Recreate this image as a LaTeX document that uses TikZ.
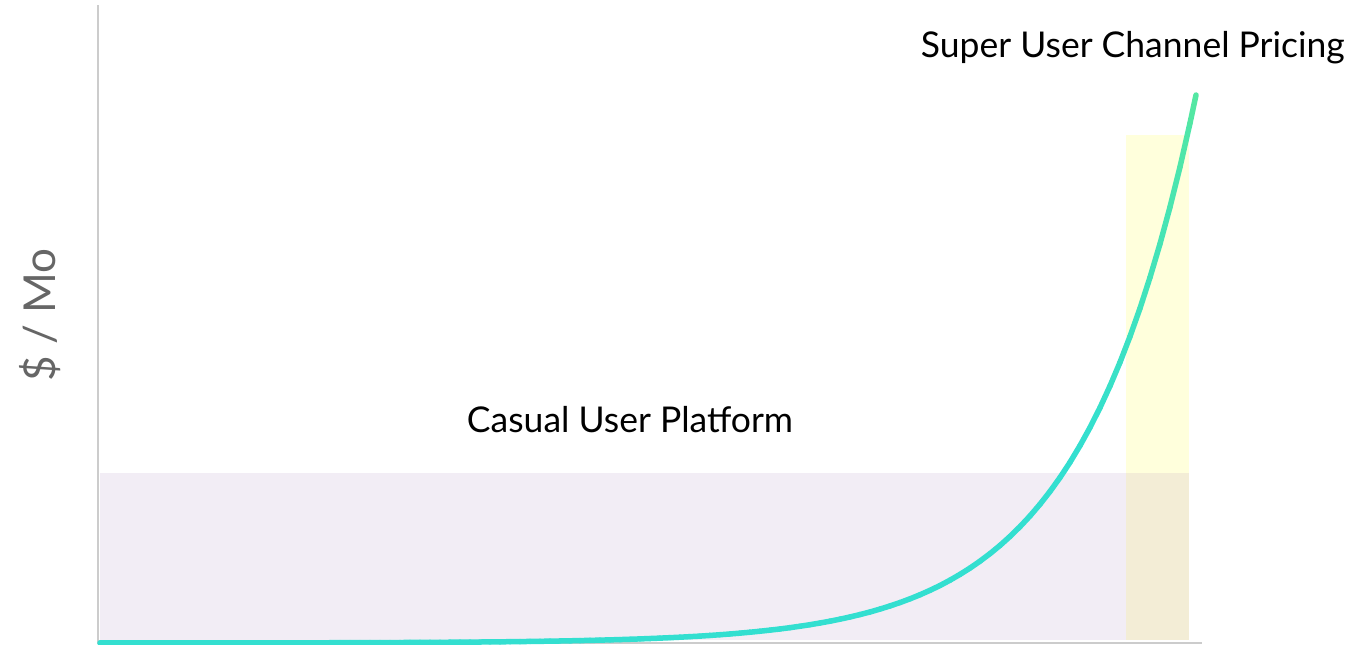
\documentclass[tikz,border=0pt]{standalone}
\usepackage{fontspec}
\setmainfont{Lato}
\definecolor{axisgray}{HTML}{CCCCCC}
\definecolor{casualfill}{HTML}{F2EDF5}
\definecolor{superfill}{HTML}{FFFFDC}
\definecolor{overlapfill}{HTML}{F3EDD6}
\definecolor{curvelow}{HTML}{33DFD0}
\definecolor{curvehigh}{HTML}{55E8A0}
\definecolor{labelgray}{HTML}{666666}
\tikzset{
  axisline/.style={draw=axisgray, line width=2pt},
  lbl/.style={font=\fontsize{35.5}{40}\selectfont, text=black, inner sep=0pt},
  ylbl/.style={font=\fontsize{44}{50}\selectfont, text=labelgray, inner sep=0pt, rotate=90},
}
\begin{document}
\begin{tikzpicture}[x=1pt,y=-1pt]
  \useasboundingbox (0,0) rectangle (1357,645);
  % shaded bands
  \fill[casualfill] (100,473) rectangle (1126,640);
  \fill[superfill] (1126,135) rectangle (1189,473);
  \fill[overlapfill] (1126,473) rectangle (1189,640);
  % axes
  \coordinate (origin) at (98,643);
  \coordinate (ytop) at (98,5);
  \coordinate (xend) at (1202,643);
  \draw[axisline] (ytop) -- (origin) -- (xend);
  % exponential price curve, coloured from teal to green as it rises
  \foreach \i in {0,...,109} {
    \pgfmathsetmacro{\xa}{100+\i*10}
    \pgfmathsetmacro{\xb}{min(100+(\i+1)*10,1196)}
    \pgfmathsetmacro{\ya}{643-548*exp(0.0088*(\xa-1196))}
    \pgfmathsetmacro{\yb}{643-548*exp(0.0088*(\xb-1196))}
    \pgfmathsetmacro{\mix}{max(0,min(100,(450-\ya)/3.5))}
    \draw[curvehigh!\mix!curvelow, line width=5.5pt, line cap=round] (\xa,\ya) -- (\xb,\yb);
  }
  % labels
  \node[lbl, anchor=east] (super) at (1345,48) {Super User Channel Pricing};
  \node[lbl] (casual) at (630,420) {Casual User Platform};
  \node[ylbl] (ylabel) at (40,315) {\$ / Mo};
\end{tikzpicture}
\end{document}
